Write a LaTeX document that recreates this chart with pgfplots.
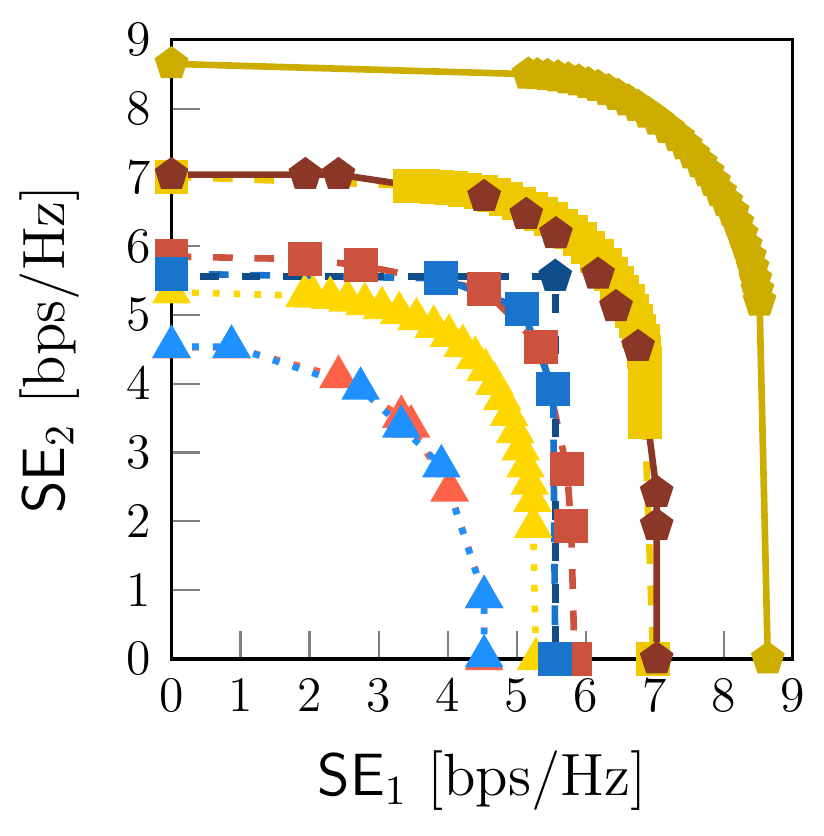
\documentclass[border=0pt]{standalone}
\usepackage{pgfplots}
\pgfplotsset{compat=1.18}

\definecolor{cgoldA}{RGB}{205,174,0}
\definecolor{cyelC}{RGB}{238,201,0}
\definecolor{cyelG}{RGB}{255,215,0}
\definecolor{cbrown}{RGB}{139,55,40}
\definecolor{cred}{RGB}{205,82,62}
\definecolor{cblue}{RGB}{24,116,205}
\definecolor{cnavy}{RGB}{16,78,139}
\definecolor{ctomato}{RGB}{255,99,71}
\definecolor{cdodger}{RGB}{30,144,255}

\begin{document}
\begin{tikzpicture}
\begin{axis}[
    scale only axis,
    width=150pt,
    height=149.5pt,
    xmin=0, xmax=9,
    ymin=0, ymax=9,
    xtick={0,1,...,9},
    ytick={0,1,...,9},
    tick pos=left,
    tick align=inside,
    major tick length=6.8pt,
    major tick style={gray, line width=0.5pt},
    axis line style={line width=0.8pt},
    tick label style={font=\large},
    xticklabel style={yshift=-1.5pt},
    yticklabel style={xshift=-1.5pt},
    clip=false,
    xlabel={\textsf{SE}$_1$ [bps/Hz]},
    ylabel={\textsf{SE}$_2$ [bps/Hz]},
    label style={font=\Large},
    xlabel shift=2.6pt,
    ylabel shift=4.5pt,
    every axis plot/.append style={line width=1.6pt},
    mark size=3.3pt,
]
% yellow squares, dashed
\addplot[cyelC, dash pattern=on 4.8pt off 5.2pt, mark=square*, mark options={solid, fill=cyelC}] coordinates {
(0,7.01) (3.45,6.88) (3.65,6.88) (3.85,6.86) (4.05,6.84) (4.25,6.82) (4.49,6.79)
(4.67,6.74) (4.85,6.69) (5.03,6.62) (5.21,6.54) (5.36,6.47) (5.50,6.39) (5.65,6.30)
(5.79,6.21) (5.92,6.10) (6.04,5.98) (6.16,5.86) (6.28,5.73) (6.37,5.60) (6.45,5.47)
(6.53,5.33) (6.61,5.20) (6.67,5.06) (6.73,4.91) (6.78,4.77) (6.83,4.62) (6.85,4.46)
(6.86,4.30) (6.86,4.15) (6.86,3.99) (6.86,3.85) (6.86,3.72) (6.86,3.58) (6.86,3.45)
(6.98,0)
};
% brown pentagons, solid
\addplot[cbrown, solid, mark=pentagon*, mark options={fill=cbrown}] coordinates {
(0,7.04) (1.94,7.04) (2.42,7.04) (4.53,6.72) (5.14,6.46) (5.57,6.18) (6.18,5.59)
(6.44,5.12) (6.76,4.54) (7.03,2.42) (7.03,1.94) (7.03,0)
};
% outer gold pentagons, solid
\addplot[cgoldA, solid, mark=pentagon*, mark options={fill=cgoldA}] coordinates {
(0,8.65) (5.17,8.50) (5.30,8.49) (5.45,8.48) (5.60,8.46) (5.75,8.43) (5.90,8.40)
(6.04,8.36) (6.18,8.32) (6.33,8.26) (6.47,8.19) (6.62,8.11) (6.76,8.03) (6.91,7.93)
(7.05,7.83) (7.20,7.71) (7.34,7.59) (7.45,7.47) (7.56,7.34) (7.67,7.21) (7.77,7.08)
(7.86,6.94) (7.95,6.79) (8.04,6.65) (8.13,6.50) (8.20,6.34) (8.26,6.18) (8.32,6.01)
(8.38,5.85) (8.42,5.69) (8.46,5.52) (8.49,5.36) (8.52,5.20) (8.64,0)
};
% yellow triangles, dotted
\addplot[cyelG, dash pattern=on 1.6pt off 3.4pt, mark=triangle*, mark size=3.8pt, mark options={solid, fill=cyelG}] coordinates {
(0,5.33) (1.93,5.28) (2.05,5.27) (2.30,5.25) (2.55,5.21) (2.80,5.16) (3.05,5.10)
(3.30,5.03) (3.55,4.94) (3.80,4.83) (4.02,4.70) (4.22,4.55) (4.40,4.38) (4.55,4.20)
(4.68,4.00) (4.79,3.78) (4.89,3.55) (4.98,3.30) (5.06,3.05) (5.13,2.80) (5.19,2.55)
(5.23,2.30) (5.24,1.92) (5.28,0)
};
% red squares, dashed
\addplot[cred, dash pattern=on 4.8pt off 5.2pt, mark=square*, mark options={solid, fill=cred}] coordinates {
(0,5.85) (1.94,5.81) (2.74,5.72) (4.53,5.37) (5.35,4.54) (5.73,2.76) (5.79,1.93) (5.84,0)
};
% blue squares, dashed
\addplot[cblue, dash pattern=on 4.8pt off 5.2pt, dash phase=1pt, mark=square*, mark options={solid, fill=cblue}] coordinates {
(0,5.60) (3.91,5.53) (5.08,5.09) (5.53,3.92) (5.56,0)
};
% navy pentagon, dashed
\addplot[cnavy, dash pattern=on 4.4pt off 5.6pt, dash phase=3pt, mark=pentagon*, mark indices={2}, mark options={solid, fill=cnavy}] coordinates {
(0,5.56) (5.56,5.56) (5.56,0)
};
% tomato triangles, dotted
\addplot[ctomato, dash pattern=on 1.6pt off 3.4pt, mark=triangle*, mark size=3.8pt, mark options={solid, fill=ctomato}] coordinates {
(0,4.53) (0.87,4.53) (2.42,4.10) (3.33,3.52) (3.47,3.38) (4.03,2.45) (4.53,0.90) (4.53,0)
};
% dodger blue triangles, dotted
\addplot[cdodger, dash pattern=on 1.6pt off 3.4pt, mark=triangle*, mark size=3.8pt, mark options={solid, fill=cdodger}] coordinates {
(0,4.54) (0.87,4.54) (2.74,3.93) (3.33,3.38) (3.91,2.80) (4.53,0.90) (4.53,0.04)
};
\end{axis}
% white margin round the picture, as in the reference
\path ([shift={(-1.4pt,-2.8pt)}]current bounding box.south west)
      ([shift={(1.2pt,2.4pt)}]current bounding box.north east);
\end{tikzpicture}
\end{document}
